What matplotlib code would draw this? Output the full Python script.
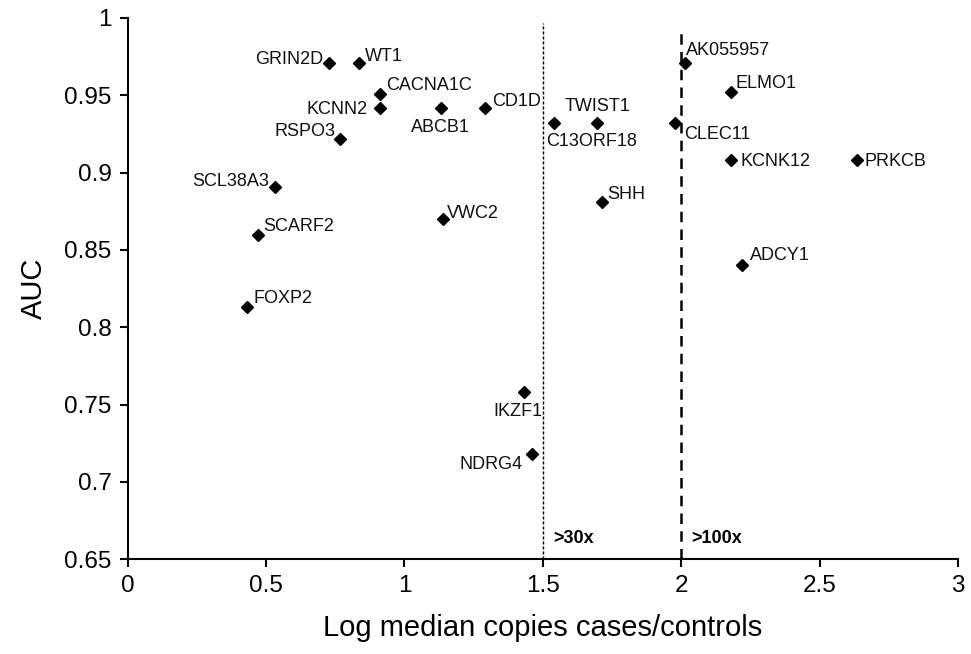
"""
AUC vs log median copy ratio scatter, one labelled diamond per gene.
"""

import matplotlib

matplotlib.use("Agg")
import matplotlib.pyplot as plt

# ── Data ──────────────────────────────────────────────────────
genes = [
    "GRIN2D", "WT1", "CACNA1C", "KCNN2", "ABCB1", "CD1D", "RSPO3",
    "AK055957", "ELMO1", "C13ORF18", "TWIST1", "CLEC11", "KCNK12",
    "PRKCB", "SHH", "SCL38A3", "VWC2", "SCARF2", "FOXP2", "IKZF1",
    "NDRG4", "ADCY1",
]
log_ratio = [
    0.729, 0.836, 0.913, 0.912, 1.131, 1.291, 0.768,
    2.012, 2.179, 1.542, 1.697, 1.979, 2.179,
    2.635, 1.712, 0.532, 1.138, 0.472, 0.430, 1.432,
    1.461, 2.220,
]
auc = [
    0.971, 0.971, 0.951, 0.942, 0.942, 0.942, 0.922,
    0.971, 0.952, 0.932, 0.932, 0.932, 0.908,
    0.908, 0.881, 0.891, 0.870, 0.860, 0.813, 0.758,
    0.718, 0.840,
]

thresholds = [1.5, 2.0]
threshold_labels = [">30x", ">100x"]

# ── Label placement (offset in pixels, horizontal alignment) ──
label_pos = {
    "GRIN2D": (-6, 5, "right"),
    "WT1": (6, 8, "left"),
    "CACNA1C": (6, 10, "left"),
    "KCNN2": (-12, 0, "right"),
    "ABCB1": (0, -18, "center"),
    "CD1D": (7, 8, "left"),
    "RSPO3": (-5, 9, "right"),
    "AK055957": (1, 14, "left"),
    "ELMO1": (5, 10, "left"),
    "C13ORF18": (-8, -17, "left"),
    "TWIST1": (0, 18, "center"),
    "CLEC11": (9, -10, "left"),
    "KCNK12": (10, 0, "left"),
    "PRKCB": (8, 0, "left"),
    "SHH": (6, 9, "left"),
    "SCL38A3": (-6, 7, "right"),
    "VWC2": (4, 7, "left"),
    "SCARF2": (5, 10, "left"),
    "FOXP2": (7, 10, "left"),
    "IKZF1": (-6, -18, "center"),
    "NDRG4": (-9, -9, "right"),
    "ADCY1": (8, 11, "left"),
}

plt.rcParams.update(
    {
        "font.family": ["Liberation Sans", "DejaVu Sans"],
        "axes.linewidth": 1.5,
    }
)

PX = 72 / 100  # pixel -> point at dpi 100

fig = plt.figure(figsize=(9.71, 6.54), dpi=100)
ax = fig.add_axes([0.1315, 0.1448, 0.8551, 0.8277])

ax.plot(log_ratio, auc, linestyle="none", marker="D", markersize=6.6,
        color="black", zorder=3)

for g, x, y in zip(genes, log_ratio, auc):
    dx, dy, ha = label_pos[g]
    ax.annotate(g, (x, y), xytext=(dx * PX, (dy - 1.5) * PX),
                textcoords="offset points", ha=ha, va="center",
                fontsize=13, color="#111111")

# threshold lines
ax.vlines(thresholds[0], 0.65, 0.997, colors="black", linewidth=1.0,
          linestyles=(0, (2.2, 1.4)))
ax.vlines(thresholds[1], 0.65, 0.993, colors="black", linewidth=1.8,
          linestyles=(0, (4.2, 2.9)))
for t, lab in zip(thresholds, threshold_labels):
    ax.annotate(lab, (t, 0.6632), xytext=(10 * PX, 0),
                textcoords="offset points", ha="left", va="center",
                fontsize=13, fontweight="bold")

ax.set_xlim(0, 3)
ax.set_ylim(0.65, 1.0)
ax.set_xticks([0, 0.5, 1, 1.5, 2, 2.5, 3])
ax.set_xticklabels(["0", "0.5", "1", "1.5", "2", "2.5", "3"])
ax.set_yticks([0.65, 0.7, 0.75, 0.8, 0.85, 0.9, 0.95, 1.0])
ax.set_yticklabels(["0.65", "0.7", "0.75", "0.8", "0.85", "0.9", "0.95", "1"])
ax.tick_params(direction="out", length=5.5, width=1.5, labelsize=17.5, pad=6)

ax.spines["top"].set_visible(False)
ax.spines["right"].set_visible(False)

ax.set_xlabel("Log median copies cases/controls", fontsize=21, labelpad=12)
ax.set_ylabel("AUC", fontsize=21, labelpad=12)

fig.savefig("out.png", dpi=100, facecolor="white")
plt.close(fig)
